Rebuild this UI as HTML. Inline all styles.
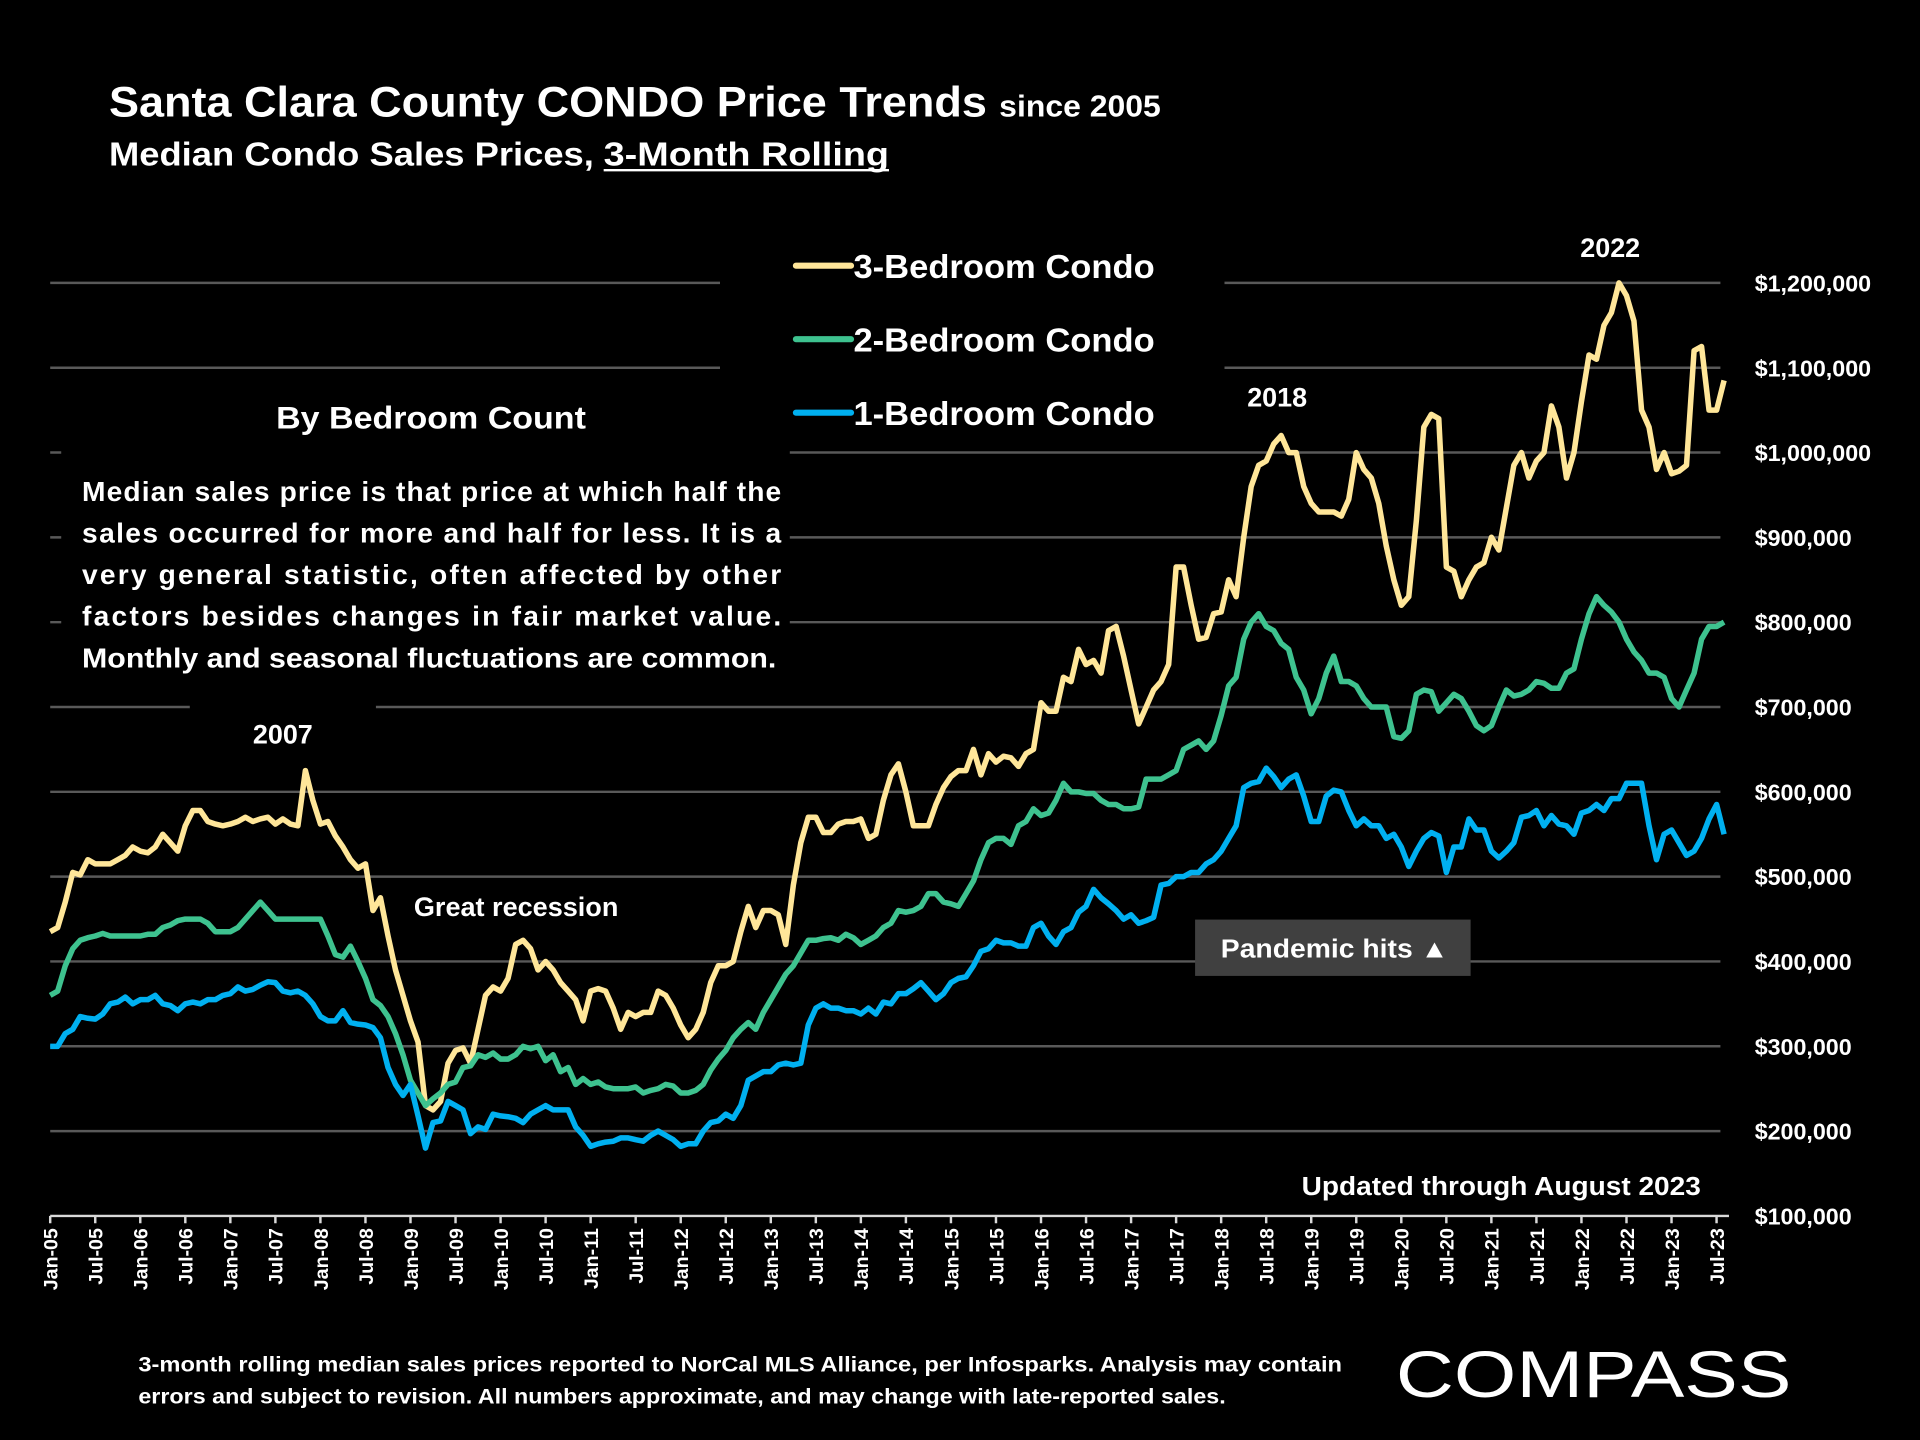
<!DOCTYPE html>
<html><head><meta charset="utf-8"><style>
html,body{margin:0;padding:0;background:#000;}
svg{display:block;}
text{font-family:"Liberation Sans",sans-serif;font-weight:bold;fill:#fff;}
</style></head><body>
<svg id="chart" width="1920" height="1440" viewBox="0 0 1568 1176" xmlns="http://www.w3.org/2000/svg">
<rect x="0" y="0" width="1568" height="1176" fill="#000"/>
<g id="grid"></g>
<g id="masks">
<rect x="588" y="195" width="412" height="165" fill="#000"/>
<rect x="50" y="318" width="595" height="242" fill="#000"/>
<rect x="155" y="565" width="152" height="55" fill="#000"/>
</g>
<g id="series"></g>
<g id="axes"></g>

<text x="89" y="95" font-size="35" textLength="717" lengthAdjust="spacingAndGlyphs">Santa Clara County CONDO Price Trends</text>
<text x="816" y="95" font-size="25" textLength="132" lengthAdjust="spacingAndGlyphs">since 2005</text>
<text x="89" y="135" font-size="27" textLength="396" lengthAdjust="spacingAndGlyphs">Median Condo Sales Prices,</text>
<text x="493" y="135" font-size="27" textLength="233" lengthAdjust="spacingAndGlyphs">3-Month Rolling</text>
<line x1="493" y1="139" x2="726" y2="139" stroke="#fff" stroke-width="2"/>

<g>
<g><line x1="650" y1="217" x2="695" y2="217" stroke="#FFE699" stroke-width="5" stroke-linecap="round"/><text x="697" y="227" font-size="27" textLength="246" lengthAdjust="spacingAndGlyphs">3-Bedroom Condo</text></g>
<g><line x1="650" y1="277" x2="695" y2="277" stroke="#3EC28F" stroke-width="5" stroke-linecap="round"/><text x="697" y="287" font-size="27" textLength="246" lengthAdjust="spacingAndGlyphs">2-Bedroom Condo</text></g>
<g><line x1="650" y1="337" x2="695" y2="337" stroke="#00B0F0" stroke-width="5" stroke-linecap="round"/><text x="697" y="347" font-size="27" textLength="246" lengthAdjust="spacingAndGlyphs">1-Bedroom Condo</text></g>
</g>

<text x="352" y="350" font-size="26" text-anchor="middle" textLength="253" lengthAdjust="spacingAndGlyphs">By Bedroom Count</text>
<g font-size="23">
<text x="67" y="409" textLength="571" lengthAdjust="spacing">Median sales price is that price at which half the</text>
<text x="67" y="443" textLength="571" lengthAdjust="spacing">sales occurred for more and half for less. It is a</text>
<text x="67" y="477" textLength="571" lengthAdjust="spacing">very general statistic, often affected by other</text>
<text x="67" y="511" textLength="571" lengthAdjust="spacing">factors besides changes in fair market value.</text>
<text x="67" y="545" textLength="567" lengthAdjust="spacingAndGlyphs">Monthly and seasonal fluctuations are common.</text>
</g>

<text x="231" y="607" font-size="22" text-anchor="middle">2007</text>
<text x="338" y="748" font-size="22" textLength="167" lengthAdjust="spacingAndGlyphs">Great recession</text>
<text x="1043" y="332" font-size="22" text-anchor="middle">2018</text>
<text x="1315" y="210" font-size="22" text-anchor="middle">2022</text>
<g>
<rect x="976" y="751" width="225" height="46" fill="#404040"/>
<text x="997" y="782" font-size="21" textLength="186" lengthAdjust="spacingAndGlyphs">Pandemic hits  ▲</text>
</g>
<text x="1063" y="976" font-size="21" textLength="326" lengthAdjust="spacingAndGlyphs">Updated through August 2023</text>

<g font-size="17">
<text x="113" y="1120" textLength="983" lengthAdjust="spacingAndGlyphs">3-month rolling median sales prices reported to NorCal MLS Alliance, per Infosparks.  Analysis may contain</text>
<text x="113" y="1146" textLength="888" lengthAdjust="spacingAndGlyphs">errors and subject to revision. All numbers approximate, and may change with late-reported sales.</text>
</g>
<text x="1140" y="1141" font-size="54" style="font-weight:normal" textLength="323" lengthAdjust="spacingAndGlyphs">COMPASS</text>

<script>
const startYear = 2005;
const yTicks = [100000,200000,300000,400000,500000,600000,700000,800000,900000,1000000,1100000,1200000];
const yTickLabels = ["$100,000","$200,000","$300,000","$400,000","$500,000","$600,000","$700,000","$800,000","$900,000","$1,000,000","$1,100,000","$1,200,000"];
const br3 = [435,440,470,505,502,520,515,515,515,520,525,535,
530,528,535,550,540,530,560,578,578,565,562,560,
562,565,570,565,568,570,562,568,562,560,625,590,
562,565,548,535,520,510,515,460,475,430,390,360,
330,305,230,225,235,280,295,298,280,320,360,370,
365,380,420,425,415,390,400,390,375,365,355,330,
365,368,365,345,320,340,335,340,340,365,360,345,
325,310,320,340,375,395,395,400,435,465,440,460,
460,455,420,490,540,570,570,552,552,562,565,565,
568,545,550,590,620,633,600,560,560,560,585,605,
618,625,625,650,620,645,635,642,640,630,645,650,
705,695,695,735,730,768,750,755,740,790,795,760,
720,680,700,720,730,750,865,865,820,780,782,810,
812,850,830,900,960,985,990,1010,1020,1000,1000,960,
940,930,930,930,925,945,1000,980,970,940,890,850,
820,830,920,1030,1045,1040,865,860,830,850,865,870,
900,885,935,985,1000,970,990,1000,1055,1030,970,1000,
1060,1115,1110,1150,1165,1200,1185,1155,1050,1030,980,1000,
975,978,985,1120,1125,1050,1050,1085];
const br2 = [360,365,395,415,425,428,430,433,430,430,430,430,
430,432,432,440,443,448,450,450,450,445,435,435,
435,440,450,460,470,460,450,450,450,450,450,450,
450,430,408,405,418,400,380,355,348,335,315,290,
260,245,230,238,245,255,258,275,277,290,287,292,
285,285,290,300,297,300,283,290,270,275,255,262,
255,258,252,250,250,250,252,245,248,250,255,253,
245,245,248,255,272,285,295,310,320,328,320,340,
355,370,385,395,410,425,425,427,428,425,432,428,
420,425,430,440,445,460,458,460,465,480,480,470,
468,465,480,495,520,540,545,545,538,560,565,580,
572,575,590,610,600,600,598,598,590,585,585,580,
580,582,615,615,615,620,625,650,655,660,650,660,
690,725,735,780,800,810,795,790,775,768,735,720,
692,710,740,760,730,730,725,710,700,700,700,665,
663,672,715,720,718,695,705,715,710,695,678,672,
678,700,720,713,715,720,730,728,722,722,740,745,
780,810,830,820,812,800,780,765,755,740,740,735,
710,700,720,740,780,795,795,800];
const br1 = [300,300,315,320,335,333,332,338,350,352,358,350,
355,355,360,350,348,342,350,352,350,355,355,360,
362,370,365,367,372,376,375,365,363,365,360,350,
335,330,330,342,328,326,325,322,310,275,255,242,
255,218,180,210,212,235,230,225,197,205,202,220,
218,217,215,210,220,225,230,225,225,225,205,195,
182,185,187,188,192,192,190,188,195,200,195,190,
182,185,185,200,210,212,220,215,230,260,265,270,
270,278,280,278,280,325,345,350,345,345,342,342,
338,345,338,352,350,362,362,368,375,365,355,362,
375,380,382,395,412,415,425,422,422,418,418,440,
445,430,420,435,440,458,465,485,475,468,460,450,
455,445,448,452,490,492,500,500,505,505,515,520,
530,545,560,605,610,612,628,618,605,615,620,595,
565,565,595,602,600,578,560,568,560,560,545,550,
535,512,530,545,552,548,505,535,535,568,555,555,
530,522,530,540,570,572,578,560,572,562,560,550,
575,578,585,578,592,592,610,610,610,560,520,550,
555,540,525,530,545,568,585,550];

const NS = "http://www.w3.org/2000/svg";
const X0 = 41, DX = 6.13, Y0 = 993, YPER = 69.27/100000;
function xPos(i){ return X0 + i*DX; }
function yPos(v){ return Y0 - (v - 100000)*YPER; }

const grid = document.getElementById('grid');
yTicks.forEach((t, k) => {
  if (k > 0) {
    const ln = document.createElementNS(NS,'line');
    ln.setAttribute('x1', X0); ln.setAttribute('x2', 1405);
    ln.setAttribute('y1', yPos(t)); ln.setAttribute('y2', yPos(t));
    ln.setAttribute('stroke', '#595959'); ln.setAttribute('stroke-width', '2');
    
    
    grid.appendChild(ln);
  }
  const tx = document.createElementNS(NS,'text');
  tx.setAttribute('x', 1433); tx.setAttribute('y', yPos(t) + 7);
  tx.setAttribute('font-size', '19');
  tx.textContent = yTickLabels[k];
  
  
  document.getElementById('axes').appendChild(tx);
});

const axes = document.getElementById('axes');
const ax = document.createElementNS(NS,'line');
ax.setAttribute('x1', X0); ax.setAttribute('x2', 1412);
ax.setAttribute('y1', Y0); ax.setAttribute('y2', Y0);
ax.setAttribute('stroke', '#d9d9d9'); ax.setAttribute('stroke-width', '2');


axes.appendChild(ax);
const mon = ["Jan","Jul"];
for (let i = 0; i < br3.length; i += 6) {
  const x = xPos(i);
  const tk = document.createElementNS(NS,'line');
  tk.setAttribute('x1', x); tk.setAttribute('x2', x);
  tk.setAttribute('y1', Y0); tk.setAttribute('y2', Y0 + 6);
  tk.setAttribute('stroke', '#d9d9d9'); tk.setAttribute('stroke-width', '2');
  
  
  axes.appendChild(tk);
  const yr = startYear + Math.floor(i/12);
  const lbl = mon[(i%12)/6] + "-" + String(yr % 100).padStart(2,'0');
  const tx = document.createElementNS(NS,'text');
  tx.setAttribute('transform', `translate(${x+6},1003) rotate(-90)`);
  tx.setAttribute('text-anchor', 'end');
  tx.setAttribute('font-size', '16');
  tx.textContent = lbl;
  
  
  axes.appendChild(tx);
}

const seriesG = document.getElementById('series');
function drawSeries(vals, color, name){
  const d = vals.map((v,i) => (i ? 'L' : 'M') + xPos(i).toFixed(1) + ',' + yPos(v*1000).toFixed(1)).join(' ');
  const p = document.createElementNS(NS,'path');
  p.setAttribute('d', d);
  p.setAttribute('fill', 'none');
  p.setAttribute('stroke', color);
  p.setAttribute('stroke-width', '4.5');
  p.setAttribute('stroke-linejoin', 'round');
  
  
  seriesG.appendChild(p);
}
drawSeries(br3, '#FFE699', 'series-3-bedroom');
drawSeries(br2, '#3EC28F', 'series-2-bedroom');
drawSeries(br1, '#00B0F0', 'series-1-bedroom');
</script>
</svg>
</body></html>
